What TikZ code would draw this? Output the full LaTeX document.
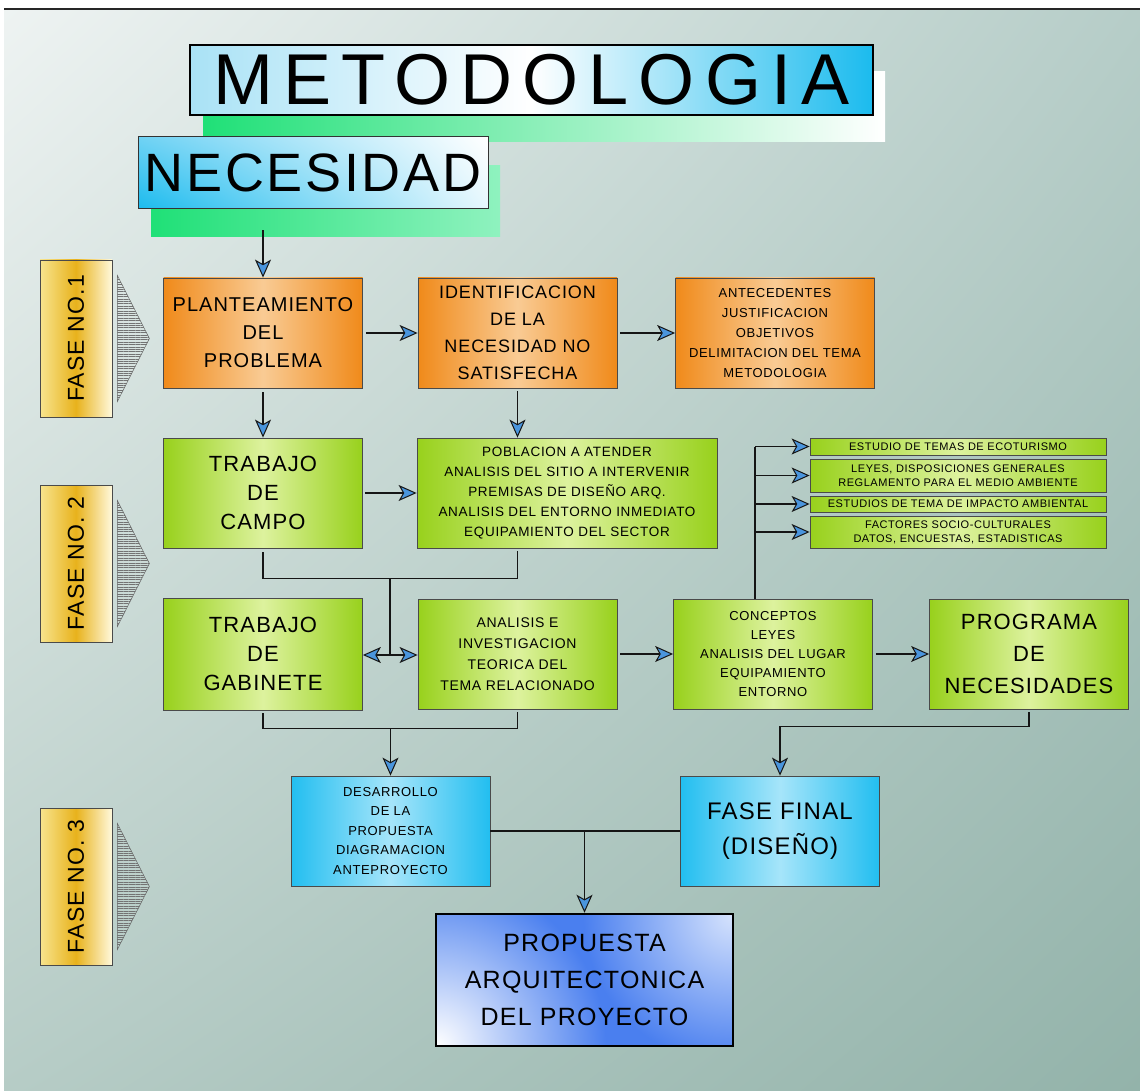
\documentclass[tikz,border=0pt]{standalone}
\usepackage{fontspec}
\setmainfont{Liberation Sans}
\newfontfamily\handfont{Liberation Sans}[LetterSpace=5]
\newfontfamily\titlefont{Liberation Sans}[LetterSpace=14]
\usetikzlibrary{arrows.meta,patterns.meta,shadings,positioning,calc}

\definecolor{fondoA}{HTML}{EEF3F2}
\definecolor{fondoB}{HTML}{B6CDC8}
\definecolor{fondoC}{HTML}{B6CCC6}
\definecolor{fondoD}{HTML}{93B3AA}
\definecolor{naranjaA}{HTML}{F08A1A}
\definecolor{naranjaB}{HTML}{F9CB94}
\definecolor{verdeA}{HTML}{98D11C}
\definecolor{verdeB}{HTML}{DDF29E}
\definecolor{celesteA}{HTML}{22BEF0}
\definecolor{celesteB}{HTML}{A6E5FA}
\definecolor{faseA}{HTML}{F7E48E}
\definecolor{faseB}{HTML}{E8B21C}
\definecolor{faseC}{HTML}{FFF9DC}
\definecolor{cian}{HTML}{1BBBEE}
\definecolor{cianmedio}{HTML}{6FD2F4}
\definecolor{cianclaro}{HTML}{A9E2F6}
\definecolor{cianpalido}{HTML}{E6F7FD}
\definecolor{verdeagua}{HTML}{1FE077}
\definecolor{verdeaguaB}{HTML}{8FF2BF}
\definecolor{azulprop}{HTML}{4A7FEF}
\definecolor{azulpropB}{HTML}{D6E3FD}
\definecolor{borde}{HTML}{4A4A4A}
\definecolor{trazo}{HTML}{151515}
\definecolor{flechaazul}{HTML}{4A95DD}

\begin{document}
\begin{tikzpicture}[x=1pt,y=-1pt]
\tikzstyle{caja} = [rectangle, draw=borde, line width=0.8pt, align=center, inner sep=2pt, text=black]
\tikzstyle{naranja} = [caja, left color=naranjaA, right color=naranjaA, middle color=naranjaB, minimum width=199pt, minimum height=110pt]
\tikzstyle{verde} = [caja, left color=verdeA, right color=verdeA, middle color=verdeB, minimum width=199pt, minimum height=110pt]
\tikzstyle{celeste} = [caja, left color=celesteA, right color=celesteA, middle color=celesteB, minimum width=199pt, minimum height=110pt]
\tikzstyle{lateral} = [verde, minimum width=296pt, minimum height=16pt, inner sep=0.5pt, font=\handfont\fontsize{11}{14}\selectfont]
\tikzstyle{fase} = [caja, left color=faseA, right color=faseC, middle color=faseB, minimum width=72pt, minimum height=157pt, font=\handfont\fontsize{23}{23}\selectfont]
\tikzstyle{rayado} = [draw=black!60, line width=0.5pt, pattern={Lines[angle=0,distance=2.4pt,line width=0.9pt]}, pattern color=black!55]
\tikzstyle{linea} = [line width=1.3pt, draw=trazo]
\tikzstyle{flecha} = [linea, -{Stealth[length=18pt,width=16pt,inset=4.5pt,line width=1pt,fill=flechaazul]}]

\useasboundingbox (0,0) rectangle (1140,1091);
\fill[white] (0,0) rectangle (1140,1091);
\shade[upper left=fondoA, upper right=fondoB, lower left=fondoC, lower right=fondoD] (4,10) rectangle (1140,1091);
\draw[line width=1.2pt, black!85] (4,9) -- (1140,9);

\node (metsombra) [rectangle, left color=verdeagua, right color=white, minimum width=682pt, minimum height=70pt] at (544,107) {};
\node (metod) [rectangle, draw=black, line width=1.2pt, left color=cianclaro, right color=cian, middle color=white, minimum width=683pt, minimum height=70pt, font=\titlefont\fontsize{72}{72}\selectfont] at (531.5,80) {METODOLOGIA};
\node (necsombra) [rectangle, left color=verdeagua, right color=verdeaguaB, minimum width=349pt, minimum height=71pt] at (325.5,201.5) {};
\node (necesidad) [rectangle, draw=black!80, line width=1pt, upper left=cianmedio, upper right=white, lower left=cian, lower right=cianpalido, minimum width=350pt, minimum height=72pt, font=\handfont\fontsize{54}{54}\selectfont] at (313,173) {NECESIDAD};

\node (fase1) [fase] at (76,338.5) {\rotatebox{90}{FASE NO.1}};
\node (fase2) [fase] at (76,563.5) {\rotatebox{90}{FASE NO. 2}};
\node (fase3) [fase] at (76,886.5) {\rotatebox{90}{FASE NO. 3}};
\foreach \f in {fase1,fase2,fase3}
  \draw[rayado] ([xshift=5pt,yshift=63pt]\f.east) -- ([xshift=37pt]\f.east) -- ([xshift=5pt,yshift=-63pt]\f.east) -- cycle;

\node (plant) [naranja, font=\handfont\fontsize{20}{28}\selectfont] at (263,333) {PLANTEAMIENTO\\DEL\\PROBLEMA};
\node (ident) [naranja, node distance=254.5pt, right of=plant, font=\handfont\fontsize{18}{27}\selectfont] {IDENTIFICACION\\DE LA\\NECESIDAD NO\\SATISFECHA};
\node (antec) [naranja, node distance=257.5pt, right of=ident, font=\handfont\fontsize{13}{20}\selectfont] {ANTECEDENTES\\JUSTIFICACION\\OBJETIVOS\\DELIMITACION DEL TEMA\\METODOLOGIA};

\node (campo) [verde, node distance=160pt, below of=plant, font=\handfont\fontsize{22}{29}\selectfont] {TRABAJO\\DE\\CAMPO};
\node (poblac) [verde, minimum width=300pt, node distance=304pt, right of=campo, font=\handfont\fontsize{13.5}{20}\selectfont] {POBLACION A ATENDER\\ANALISIS DEL SITIO A INTERVENIR\\PREMISAS DE DISEÑO ARQ.\\ANALISIS DEL ENTORNO INMEDIATO\\EQUIPAMIENTO DEL SECTOR};

\node (eco) [lateral, minimum height=17pt] at (958,446.5) {ESTUDIO DE TEMAS DE ECOTURISMO};
\node (leyes) [lateral, minimum height=33pt, node distance=29pt, below of=eco] {LEYES, DISPOSICIONES GENERALES\\REGLAMENTO PARA EL MEDIO AMBIENTE};
\node (impacto) [lateral, node distance=28.5pt, below of=leyes] {ESTUDIOS DE TEMA DE IMPACTO AMBIENTAL};
\node (factores) [lateral, minimum height=32pt, node distance=28pt, below of=impacto] {FACTORES SOCIO-CULTURALES\\DATOS, ENCUESTAS, ESTADISTICAS};

\node (gabin) [verde, minimum height=112pt, node distance=161pt, below of=campo, font=\handfont\fontsize{22}{29}\selectfont] {TRABAJO\\DE\\GABINETE};
\node (analisis) [verde, node distance=254.5pt, right of=gabin, font=\handfont\fontsize{14}{21}\selectfont] {ANALISIS E\\INVESTIGACION\\TEORICA DEL\\TEMA RELACIONADO};
\node (concep) [verde, node distance=255.5pt, right of=analisis, font=\handfont\fontsize{13}{19}\selectfont] {CONCEPTOS\\LEYES\\ANALISIS DEL LUGAR\\EQUIPAMIENTO\\ENTORNO};
\node (programa) [verde, node distance=256pt, right of=concep, font=\handfont\fontsize{22}{32}\selectfont] {PROGRAMA\\DE\\NECESIDADES};

\node (desarr) [celeste, font=\handfont\fontsize{13}{19.5}\selectfont] at (390.5,831) {DESARROLLO\\DE LA\\PROPUESTA\\DIAGRAMACION\\ANTEPROYECTO};
\node (final) [celeste, node distance=389.5pt, right of=desarr, font=\handfont\fontsize{24}{35}\selectfont] {FASE FINAL\\(DISEÑO)};

\begin{scope}
\clip (436,914) rectangle (733,1046);
\fill[azulprop] (436,914) rectangle (733,1046);
\shade[inner color=white, outer color=azulprop] (436,1046) circle (170);
\shade[inner color=azulpropB, outer color=azulprop] (733,914) circle (150);
\end{scope}
\node (propuesta) [caja, draw=black, line width=2.5pt, minimum width=297pt, minimum height=132pt, font=\handfont\fontsize{25}{37}\selectfont] at (584.5,980) {PROPUESTA\\ARQUITECTONICA\\DEL PROYECTO};

\draw[flecha] ([yshift=7pt]necsombra.south -| plant.north) -- (plant.north);
\draw[flecha, shorten <=3pt] (plant.east) -- (plant.east -| ident.west);
\draw[flecha, shorten <=3pt] (ident.east) -- (ident.east -| antec.west);
\draw[flecha, shorten <=4pt] (plant.south) -- (campo.north);
\draw[flecha, shorten <=3pt] (ident.south) -- (ident.south |- poblac.north);
\draw[flecha, shorten <=2pt] (campo.east) -- (campo.east -| poblac.west);
\draw[linea, shorten <=4pt, shorten >=3pt] (campo.south) -- ++(0,30) -| (ident.south |- poblac.south);

\coordinate (cruce1) at (390,578);
\coordinate (cruce2) at (390,655);
\draw[linea] (cruce1) -- (cruce2);
\draw[flecha] (cruce2) -- (cruce2 -| gabin.east);
\draw[flecha] (cruce2) -- (cruce2 -| analisis.west);
\draw[flecha, shorten <=3pt] (analisis.east) -- (concep.west);
\draw[flecha, shorten <=3pt] (concep.east) -- (programa.west);

\coordinate (ramal) at (755,446);
\draw[linea] (ramal |- concep.north) -- (ramal |- eco.west);
\foreach \n in {eco,leyes,impacto,factores}
  \draw[flecha] (ramal |- \n.west) -- (\n.west);

\draw[linea, shorten <=3pt, shorten >=3pt] (gabin.south) -- ++(0,18) -| (analisis.south);
\coordinate (cruce3) at (390.5,728);
\draw[flecha] (cruce3) -- (desarr.north);
\draw[flecha, shorten <=3pt] (programa.south) -- ++(0,17) -| (final.north);
\draw[linea] (desarr.east) -- (desarr.east -| final.west);
\draw[flecha] (desarr.east -| propuesta.north) -- (propuesta.north);
\end{tikzpicture}
\end{document}
